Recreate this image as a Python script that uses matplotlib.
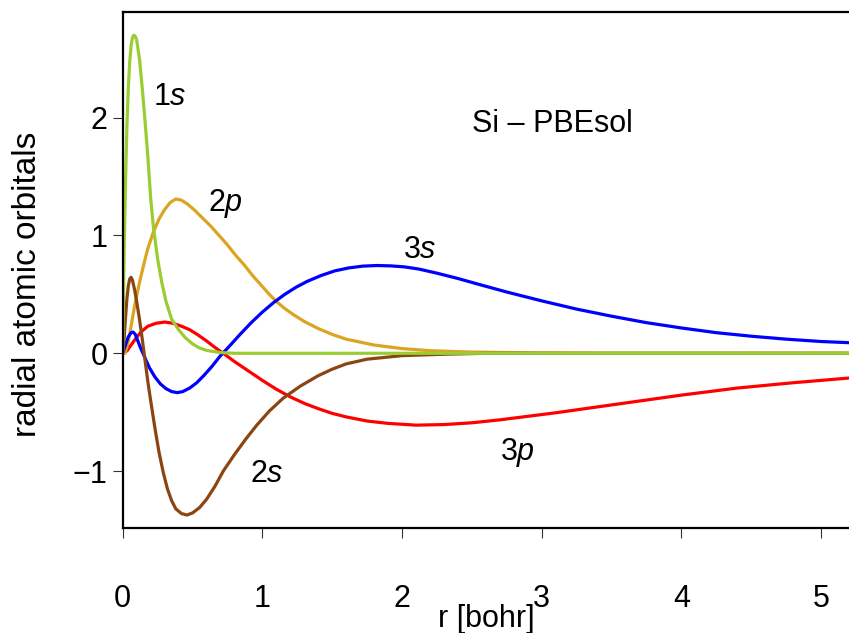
import matplotlib
matplotlib.use("Agg")
import matplotlib.pyplot as plt

plt.rcParams['font.family'] = ['Liberation Sans', 'DejaVu Sans']
plt.rcParams['mathtext.fontset'] = 'custom'
plt.rcParams['mathtext.rm'] = 'Liberation Sans'
plt.rcParams['mathtext.it'] = 'Liberation Sans:italic'

# radial orbitals of Si (PBEsol), r in bohr
r_1s = [0, 0.01, 0.02, 0.03, 0.04, 0.05, 0.06, 0.07, 0.08, 0.09, 0.10, 0.12, 0.14,
        0.16, 0.18, 0.20, 0.22, 0.25, 0.28, 0.31, 0.35, 0.40, 0.45, 0.50, 0.55,
        0.60, 0.70, 0.80, 5.2]
v_1s = [0, 0.85, 1.45, 1.92, 2.25, 2.47, 2.61, 2.68, 2.70, 2.69, 2.66, 2.50, 2.25,
        1.97, 1.67, 1.32, 1.07, 0.80, 0.60, 0.44, 0.29, 0.20, 0.13, 0.08, 0.045,
        0.025, 0.006, 0.0, 0.0]

r_2p = [0, 0.015, 0.03, 0.05, 0.07, 0.09, 0.12, 0.15, 0.18, 0.22, 0.26, 0.30, 0.34,
        0.38, 0.42, 0.46, 0.51, 0.57, 0.63, 0.69, 0.75, 0.81, 0.87, 0.93, 0.99,
        1.05, 1.10, 1.16, 1.22, 1.30, 1.40, 1.50, 1.60, 1.70, 1.80, 2.00, 2.20,
        2.50, 3.00, 3.50, 5.2]
v_2p = [0, 0.0, 0.05, 0.16, 0.30, 0.43, 0.60, 0.75, 0.89, 1.03, 1.14, 1.22, 1.28,
        1.31, 1.30, 1.27, 1.22, 1.15, 1.08, 1.00, 0.92, 0.83, 0.75, 0.66, 0.58,
        0.50, 0.44, 0.38, 0.33, 0.27, 0.21, 0.16, 0.12, 0.095, 0.07, 0.04, 0.022,
        0.01, 0.003, 0.0, 0.0]

r_2s = [0, 0.01, 0.02, 0.03, 0.04, 0.05, 0.06, 0.07, 0.085, 0.10, 0.12, 0.14, 0.16,
        0.18, 0.20, 0.23, 0.26, 0.29, 0.32, 0.35, 0.38, 0.42, 0.46, 0.50, 0.55,
        0.60, 0.66, 0.72, 0.80, 0.88, 0.96, 1.05, 1.15, 1.27, 1.40, 1.50, 1.60,
        1.75, 2.00, 2.30, 2.60, 5.2]
v_2s = [0, 0.12, 0.30, 0.46, 0.57, 0.63, 0.645, 0.62, 0.54, 0.44, 0.29, 0.12, -0.06,
        -0.24, -0.40, -0.63, -0.84, -1.01, -1.15, -1.25, -1.32, -1.36, -1.373, -1.355, -1.31,
        -1.24, -1.13, -1.00, -0.86, -0.73, -0.61, -0.49, -0.38, -0.28, -0.19, -0.135, -0.09,
        -0.05, -0.02, -0.008, 0.0, 0.0]

r_3s = [0, 0.02, 0.04, 0.06, 0.075, 0.09, 0.11, 0.13, 0.16, 0.19, 0.23, 0.27, 0.31,
        0.35, 0.39, 0.43, 0.48, 0.53, 0.58, 0.64, 0.70, 0.76, 0.84, 0.92, 1.00,
        1.08, 1.16, 1.24, 1.32, 1.42, 1.52, 1.62, 1.72, 1.82, 1.92, 2.02, 2.12,
        2.25, 2.40, 2.55, 2.75, 3.00, 3.25, 3.50, 3.75, 4.00, 4.25, 4.50, 4.75,
        5.00, 5.20]
v_3s = [0, 0.07, 0.14, 0.175, 0.18, 0.16, 0.10, 0.04, -0.04, -0.12, -0.20, -0.26, -0.30,
        -0.325, -0.334, -0.325, -0.295, -0.25, -0.19, -0.11, -0.02, 0.055, 0.16, 0.26, 0.35,
        0.43, 0.50, 0.56, 0.61, 0.66, 0.70, 0.725, 0.74, 0.745, 0.742, 0.733, 0.715,
        0.68, 0.635, 0.585, 0.52, 0.445, 0.375, 0.315, 0.26, 0.215, 0.175, 0.145, 0.12,
        0.10, 0.09]

r_3p = [0, 0.03, 0.06, 0.09, 0.13, 0.18, 0.24, 0.30, 0.36, 0.42, 0.48, 0.54, 0.60,
        0.66, 0.72, 0.80, 0.90, 1.00, 1.10, 1.20, 1.30, 1.40, 1.50, 1.60, 1.75,
        1.90, 2.10, 2.30, 2.50, 2.70, 2.90, 3.10, 3.40, 3.70, 4.00, 4.40, 4.80, 5.20]
v_3p = [0, 0.02, 0.07, 0.12, 0.18, 0.23, 0.255, 0.265, 0.255, 0.23, 0.20, 0.155, 0.105,
        0.05, 0.0, -0.07, -0.15, -0.23, -0.305, -0.37, -0.425, -0.47, -0.51, -0.54, -0.575,
        -0.595, -0.61, -0.605, -0.59, -0.565, -0.535, -0.505, -0.455, -0.405, -0.355, -0.295, -0.25, -0.21]

fig = plt.figure(figsize=(8.49, 6.33), dpi=100)
ax = fig.add_axes([122.7/849, 105/633, (849-122.7)/849, 516/633])

lw = 2.3
ax.plot(r_3p, v_3p, color='#FF0000', lw=lw)
ax.plot(r_2p, v_2p, color='#DAA520', lw=lw)
ax.plot(r_3s, v_3s, color='#0000FF', lw=lw)
ax.plot(r_2s, v_2s, color='#8B4513', lw=lw)
ax.plot(r_1s, v_1s, color='#9ACD32', lw=lw)

ax.set_xlim(0, 5.2)
ax.set_ylim(-1.483, 2.897)
ax.set_xticks([0, 1, 2, 3, 4, 5])
ax.set_yticks([-1, 0, 1, 2])

for s in ['left', 'bottom', 'top']:
    ax.spines[s].set_linewidth(1.6)
ax.spines['right'].set_visible(False)
fs = 22
ax.tick_params(axis='both', direction='out', length=7, width=0.8, color='#333333',
               labelsize=fs)
ax.tick_params(axis='x', pad=33)
ax.tick_params(axis='y', pad=4)

ax.text(0.216, 2.108, r'1$\mathit{s}$', fontsize=fs)
ax.text(0.611, 1.21, r'2$\mathit{p}$', fontsize=fs)
ax.text(2.006, 0.806, r'3$\mathit{s}$', fontsize=fs)
ax.text(0.912, -1.09, r'2$\mathit{s}$', fontsize=fs)
ax.text(2.70, -0.906, r'3$\mathit{p}$', fontsize=fs)
ax.text(2.50, 1.88, 'Si – PBEsol', fontsize=fs)

fig.text(28/849, 1 - 284/633, 'radial atomic orbitals', rotation=90,
         ha='center', va='center', fontsize=24)
fig.text(486/849, 1 - 627/633, 'r [bohr]', ha='center', va='baseline', fontsize=fs)

fig.savefig('out.png', dpi=100)
